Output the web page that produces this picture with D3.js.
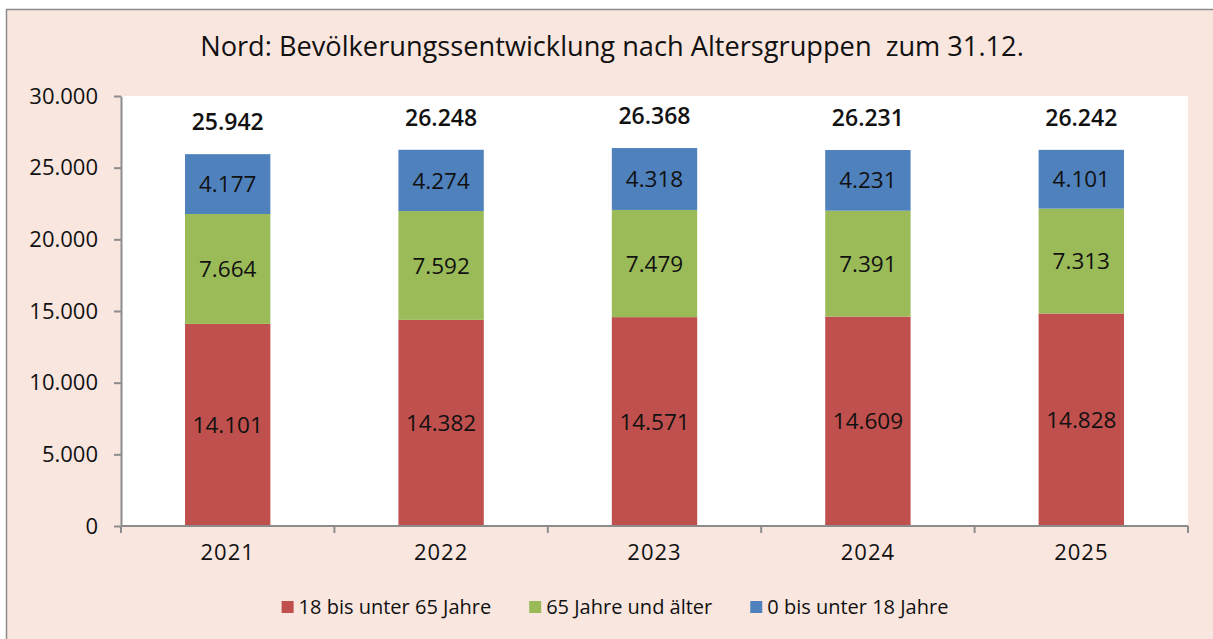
<!DOCTYPE html>
<html>
<head>
<meta charset="utf-8">
<script src="https://cdn.jsdelivr.net/npm/d3@7"></script>
<style>
  html, body { margin: 0; padding: 0; background: #ffffff; }
  svg { display: block; }
  text { font-family: "Open Sans", "Noto Sans", sans-serif; fill: #111; }
</style>
</head>
<body>
<svg id="chart" width="1213" height="639"></svg>
<script>
// Population of "Nord" by age group, as of 31 December
const years = ["2021", "2022", "2023", "2024", "2025"];
const adults = [14101, 14382, 14571, 14609, 14828];    // 18 bis unter 65 Jahre
const seniors = [7664, 7592, 7479, 7391, 7313];        // 65 Jahre und älter
const children = [4177, 4274, 4318, 4231, 4101];       // 0 bis unter 18 Jahre
const totals = [25942, 26248, 26368, 26231, 26242];
const yTicks = [0, 5000, 10000, 15000, 20000, 25000, 30000];

const seriesNames = ["18 bis unter 65 Jahre", "65 Jahre und älter", "0 bis unter 18 Jahre"];
const seriesColors = ["#C0504D", "#9BBB59", "#4F81BD"];
const titleText = "Nord: Bevölkerungssentwicklung nach Altersgruppen\u00A0 zum 31.12.";

const svg = d3.select("#chart");
const W = 1213, H = 639;
const plot = { left: 121, right: 1188, top: 96, bottom: 526 };

const fmt = d3.formatLocale({ decimal: ",", thousands: ".", grouping: [3], currency: ["", "€"] }).format(",d");

// chart area background and frame
svg.append("rect").attr("x", 7).attr("y", 9.5).attr("width", W - 7).attr("height", H - 9.5)
  .attr("fill", "#F9E6DF");
svg.append("path").attr("d", `M6.5,${H} V9.5 H${W}`).attr("fill", "none")
  .attr("stroke", "#8c8c8c").attr("stroke-width", 1.5);

// plot area
svg.append("rect").attr("x", plot.left).attr("y", plot.top)
  .attr("width", plot.right - plot.left).attr("height", plot.bottom - plot.top)
  .attr("fill", "#ffffff");

// title
svg.append("text").attr("x", 612).attr("y", 56)
  .attr("text-anchor", "middle").attr("font-size", 27.2)
  .text(titleText);

const x = d3.scaleBand().domain(years).range([plot.left, plot.right]).paddingInner(0.6).paddingOuter(0.3);
const y = d3.scaleLinear().domain([0, 30000]).range([plot.bottom, plot.top]);

// stacked data
const rows = years.map((yr, i) => ({ year: yr, a: adults[i], s: seniors[i], c: children[i] }));
const stack = d3.stack().keys(["a", "s", "c"])(rows);

const layers = svg.append("g").selectAll("g").data(stack).join("g")
  .attr("fill", (d, i) => seriesColors[i]);

layers.selectAll("rect").data(d => d).join("rect")
  .attr("x", d => x(d.data.year))
  .attr("width", x.bandwidth())
  .attr("y", d => y(d[1]))
  .attr("height", d => y(d[0]) - y(d[1]));

// segment value labels
layers.selectAll("text").data(d => d).join("text")
  .attr("x", d => x(d.data.year) + x.bandwidth() / 2)
  .attr("y", d => (y(d[0]) + y(d[1])) / 2)
  .attr("dy", "0.36em")
  .attr("text-anchor", "middle")
  .attr("font-size", 22.5)
  .text(d => fmt(d[1] - d[0]));

// totals above bars
svg.append("g").selectAll("text").data(years).join("text")
  .attr("x", (d) => x(d) + x.bandwidth() / 2)
  .attr("y", (d, i) => y(totals[i]) - 24)
  .attr("text-anchor", "middle")
  .attr("font-size", 23).attr("font-weight", 600)
  .text((d, i) => fmt(totals[i]));

// y axis
const yAxis = svg.append("g").attr("transform", `translate(${plot.left},0)`)
  .call(d3.axisLeft(y).tickValues(yTicks).tickFormat(fmt).tickSize(7).tickSizeOuter(0).tickPadding(16));
yAxis.select(".domain").attr("stroke", "#8c8c8c").attr("stroke-width", 2);
yAxis.selectAll(".tick line").attr("stroke", "#8c8c8c").attr("stroke-width", 2);
yAxis.selectAll(".tick text").attr("font-size", 22).attr("font-family", "Open Sans").attr("fill", "#111");

// x axis with ticks at category boundaries
const xAxis = svg.append("g").attr("transform", `translate(0,${plot.bottom})`)
  .call(d3.axisBottom(x).tickSize(0).tickPadding(18));
xAxis.select(".domain").attr("stroke", "#8c8c8c").attr("stroke-width", 2)
  .attr("d", `M${plot.left},0H${plot.right}`);
xAxis.selectAll(".tick text").attr("font-size", 22).attr("letter-spacing", 1)
  .attr("font-family", "Open Sans").attr("fill", "#111");
const bounds = d3.range(years.length + 1).map(i => plot.left + i * (plot.right - plot.left) / years.length);
xAxis.append("g").selectAll("line").data(bounds).join("line")
  .attr("x1", d => d).attr("x2", d => d).attr("y1", 0).attr("y2", 7)
  .attr("stroke", "#8c8c8c").attr("stroke-width", 2);

// legend
const legend = svg.append("g");
let lx = 0;
seriesNames.forEach((name, i) => {
  const g = legend.append("g").attr("transform", `translate(${lx},0)`);
  g.append("rect").attr("x", 0).attr("y", -6).attr("width", 12).attr("height", 12).attr("fill", seriesColors[i]);
  const t = g.append("text").attr("x", 17).attr("y", 0).attr("dy", "0.36em")
    .attr("font-size", 20).text(name);
  const w = t.node().getComputedTextLength();
  lx += 17 + w + 38;
});
const legendWidth = lx - 38;
legend.attr("transform", `translate(${615 - legendWidth / 2},607)`);
</script>
</body>
</html>
